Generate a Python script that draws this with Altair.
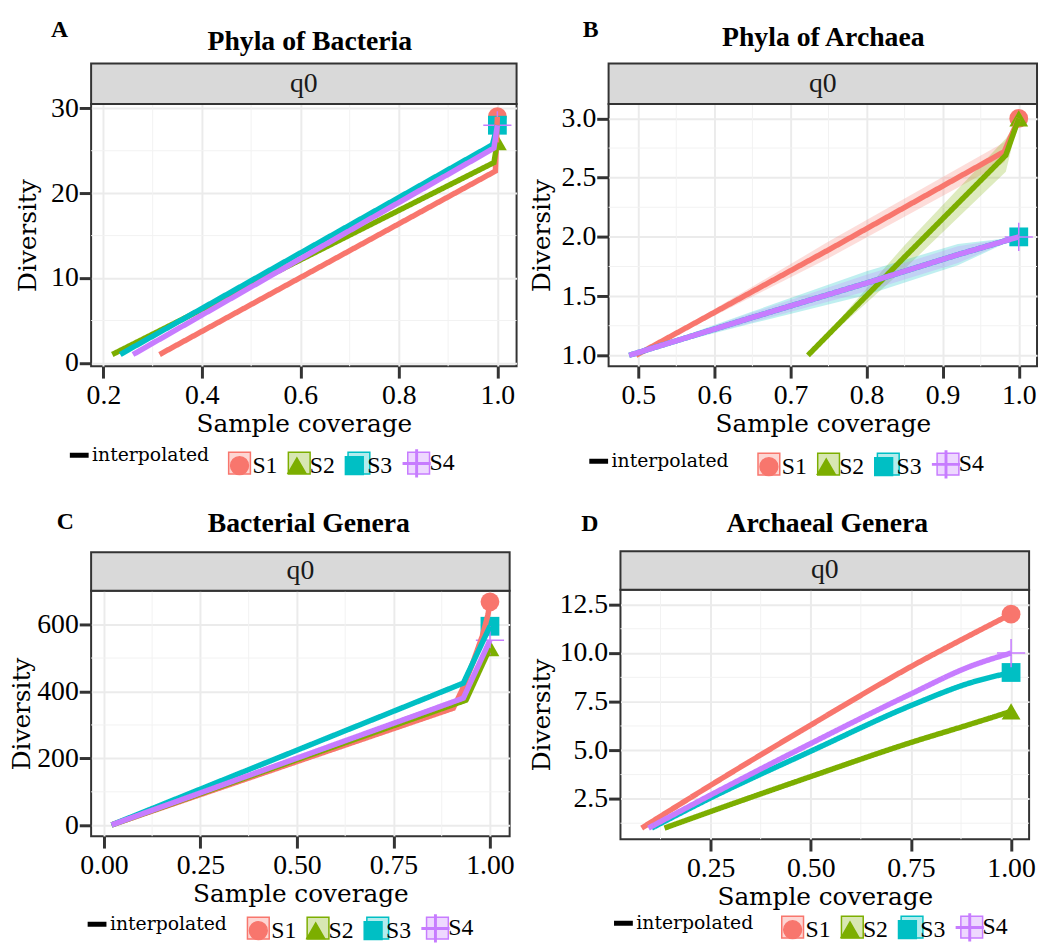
import altair as alt
import pandas as pd

SERIES = ["S1", "S2", "S3", "S4"]
COLORS = ["#F8766D", "#7CAE00", "#00BFC4", "#C77CFF"]
LIGHT = ["#FDD6D3", "#D8E7B3", "#B3ECED", "#EED8FF"]
PLUS = "M-1.5,-0.08H-0.08V-1.5H0.08V-0.08H1.5V0.08H0.08V1.5H-0.08V0.08H-1.5Z"
SHAPES = ["circle", "triangle-up", "square", PLUS]
SERIF = "Liberation Serif"
WIDE = "DejaVu Serif"

# ---------------- Panel A: Phyla of Bacteria ----------------
A_cov = {"S1": [0.314, 0.996, 1.0], "S2": [0.218, 0.993, 1.0],
         "S3": [0.234, 0.990, 1.0], "S4": [0.260, 0.993, 1.0]}
A_div = {"S1": [1, 22.6, 29], "S2": [1, 23.6, 26],
         "S3": [1, 25.7, 28], "S4": [1, 25.3, 28]}
A_obs_cov = [1.0, 1.0, 1.0, 1.0]
A_obs_div = [29, 26, 28, 28]
A_xticks = [0.2, 0.4, 0.6, 0.8, 1.0]
A_yticks = [0, 10, 20, 30]
A_xminor = [0.3, 0.5, 0.7, 0.9]
A_yminor = [5, 15, 25]

# ---------------- Panel B: Phyla of Archaea ----------------
B_cov = {"S1": [0.497, 0.75, 0.981, 1.0], "S2": [0.723, 0.85, 0.983, 1.0],
         "S3": [0.488, 0.65, 0.80, 0.92, 1.0], "S4": [0.488, 0.65, 0.80, 0.92, 1.0]}
B_div = {"S1": [1.0, 1.89, 2.72, 3.0], "S2": [1.0, 1.83, 2.69, 3.0],
         "S3": [1.0, 1.32, 1.61, 1.85, 2.0], "S4": [1.0, 1.32, 1.61, 1.85, 2.0]}
B_lo = {"S1": [1.0, 1.82, 2.63, 3.0], "S2": [1.0, 1.73, 2.55, 3.0],
        "S3": [1.0, 1.27, 1.51, 1.76, 2.0], "S4": [1.0, 1.28, 1.54, 1.78, 2.0]}
B_hi = {"S1": [1.0, 1.96, 2.80, 3.0], "S2": [1.0, 1.93, 2.83, 3.0],
        "S3": [1.0, 1.37, 1.71, 1.94, 2.0], "S4": [1.0, 1.36, 1.68, 1.92, 2.0]}
B_obs_cov = [1.0, 1.0, 1.0, 1.0]
B_obs_div = [3, 3, 2, 2]
B_xticks = [0.5, 0.6, 0.7, 0.8, 0.9, 1.0]
B_yticks = [1.0, 1.5, 2.0, 2.5, 3.0]
B_xminor = [0.55, 0.65, 0.75, 0.85, 0.95]
B_yminor = [1.25, 1.75, 2.25, 2.75]

# ---------------- Panel C: Bacterial Genera ----------------
C_cov = {"S1": [0.02, 0.905, 0.93, 0.955, 0.98, 0.995, 1.0], "S2": [0.02, 0.938, 1.0],
         "S3": [0.02, 0.931, 1.0], "S4": [0.02, 0.931, 1.0]}
C_div = {"S1": [1, 350, 410, 484, 565, 630, 668], "S2": [1, 374, 530],
         "S3": [1, 425, 595], "S4": [1, 380, 553]}
C_obs_cov = [1.0, 1.0, 1.0, 1.0]
C_obs_div = [668, 530, 595, 553]
C_xticks = [0.0, 0.25, 0.5, 0.75, 1.0]
C_yticks = [0, 200, 400, 600]
C_xminor = [0.125, 0.375, 0.625, 0.875]
C_yminor = [100, 300, 500]

# ---------------- Panel D: Archaeal Genera ----------------
D_cov = {"S1": [0.078, 0.25, 0.5, 0.75, 0.9, 1.0], "S2": [0.135, 0.25, 0.5, 0.75, 0.9, 1.0],
         "S3": [0.103, 0.25, 0.5, 0.75, 0.9, 1.0], "S4": [0.095, 0.25, 0.5, 0.75, 0.9, 1.0]}
D_div = {"S1": [1, 3.2, 6.3, 9.3, 10.94, 12], "S2": [1, 1.85, 3.65, 5.4, 6.35, 7.0],
         "S3": [1, 2.55, 4.95, 7.3, 8.48, 9.0], "S4": [1, 2.7, 5.35, 7.9, 9.33, 10]}
D_obs_cov = [1.0, 1.0, 1.0, 1.0]
D_obs_div = [12, 7, 9, 10]
D_xticks = [0.25, 0.5, 0.75, 1.0]
D_yticks = [2.5, 5.0, 7.5, 10.0, 12.5]
D_xminor = [0.125, 0.375, 0.625, 0.875]
D_yminor = [1.25, 3.75, 6.25, 8.75, 11.25]


def curve_df(cov, div, lo=None, hi=None):
    rows = []
    for s in SERIES:
        for i, (c, d) in enumerate(zip(cov[s], div[s])):
            r = {"series": s, "idx": i, "cov": c, "div": d, "method": "interpolated"}
            if lo is not None:
                r["lo"] = lo[s][i]
                r["hi"] = hi[s][i]
            rows.append(r)
    return pd.DataFrame(rows)


def panel(p):
    W, H, SH = p["W"], p["H"], p["SH"]
    curves = curve_df(p["cov"], p["div"], p.get("lo"), p.get("hi"))
    obs = pd.DataFrame({"series": SERIES, "key": [s + "_" for s in SERIES],
                        "cov": p["obs_cov"], "div": p["obs_div"]})
    xs = alt.Scale(domain=p["xdom"], nice=False, zero=False)
    ys = alt.Scale(domain=p["ydom"], nice=False, zero=False)
    cs = alt.Scale(domain=SERIES, range=COLORS)
    xa = alt.Axis(values=p["xticks"], format=p["xfmt"], title="Sample coverage",
                  titleY=p["xty"], titleBaseline="alphabetic")
    ya = alt.Axis(values=p["yticks"], format=p["yfmt"], title="Diversity",
                  titleX=p["ytx"], titleY=H / 2, titleBaseline="alphabetic")
    kx, ky = p["key"]
    ix, iy = p["interp"]

    key_legend = alt.Legend(orient="none", legendX=kx, legendY=ky, direction="horizontal",
                            title=None, symbolSize=324, labelFont=SERIF, labelFontSize=24,
                            labelColor="black", labelOffset=1, columnPadding=7, padding=0)

    def X(f):
        return alt.X(f, scale=xs, axis=xa)

    def Y(f):
        return alt.Y(f, scale=ys, axis=ya)

    layers = []
    layers.append(alt.Chart(pd.DataFrame({"v": p["xminor"]})).mark_rule(
        color="#F2F2F2", strokeWidth=1).encode(x=X("v:Q")))
    layers.append(alt.Chart(pd.DataFrame({"v": p["yminor"]})).mark_rule(
        color="#F2F2F2", strokeWidth=1).encode(y=Y("v:Q")))

    one = pd.DataFrame({"t": ["q0"]})
    layers.append(alt.Chart(one).mark_rect(fill="#D9D9D9", stroke="#333333", strokeWidth=2).encode(
        x=alt.value(0), x2=alt.value(W), y=alt.value(-SH), y2=alt.value(0)))
    layers.append(alt.Chart(one).mark_text(font=SERIF, fontSize=28, color="#1A1A1A",
                                           baseline="middle", align="center").encode(
        x=alt.value(W / 2), y=alt.value(-SH / 2), text="t:N"))
    layers.append(alt.Chart(pd.DataFrame({"t": [p["title"]]})).mark_text(
        font=SERIF, fontSize=28, fontWeight="bold", color="black",
        baseline="alphabetic", align="center").encode(
        x=alt.value(p["title_pos"][0]), y=alt.value(p["title_pos"][1]), text="t:N"))
    layers.append(alt.Chart(pd.DataFrame({"t": [p["letter"]]})).mark_text(
        font=SERIF, fontSize=24, fontWeight="bold", color="black",
        baseline="alphabetic", align="center").encode(
        x=alt.value(p["letter_pos"][0]), y=alt.value(p["letter_pos"][1]), text="t:N"))

    # key boxes (light fill + coloured border) drawn under the symbol legend
    box_legend = alt.Legend(orient="none", legendX=kx, legendY=ky, direction="horizontal",
                            title=None, symbolType="square", symbolSize=484,
                            symbolStrokeWidth=1.5, symbolOpacity=1,
                            labelExpr="''", labelFont=SERIF, labelFontSize=24, labelOffset=1,
                            columnPadding=32.34, padding=0)
    layers.append(alt.Chart(obs).mark_point(shape="square", filled=True, size=0,
                                            strokeWidth=1.5).encode(
        x=X("cov:Q"), y=Y("div:Q"),
        fill=alt.Fill("key:N", scale=alt.Scale(domain=[s + "_" for s in SERIES], range=LIGHT),
                      legend=box_legend),
        stroke=alt.Stroke("key:N", scale=alt.Scale(domain=[s + "_" for s in SERIES], range=COLORS),
                          legend=box_legend)))

    # observed points (drawn first, lines over them as in the original)
    layers.append(alt.Chart(obs).mark_point(filled=True, opacity=1, size=361).encode(
        x=X("cov:Q"), y=Y("div:Q"),
        color=alt.Color("series:N", scale=cs, legend=key_legend),
        shape=alt.Shape("series:N", scale=alt.Scale(domain=SERIES, range=SHAPES), legend=key_legend)))

    if "lo" in p:
        layers.append(alt.Chart(curves).mark_area(opacity=0.25).encode(
            x=X("cov:Q"), y=Y("lo:Q"), y2="hi:Q",
            color=alt.Color("series:N", scale=cs, legend=key_legend)))

    interp_legend = alt.Legend(orient="none", legendX=ix, legendY=iy, title=None,
                               symbolType="stroke", symbolSize=361, symbolStrokeWidth=5,
                               symbolStrokeColor="black", labelFont=WIDE, labelFontSize=19,
                               labelColor="black", labelOffset=1, padding=0)
    line_kw = dict(strokeWidth=5.5)
    if p.get("smooth"):
        line_kw["interpolate"] = "monotone"
    layers.append(alt.Chart(curves).mark_line(**line_kw).encode(
        x=X("cov:Q"), y=Y("div:Q"),
        color=alt.Color("series:N", scale=cs, legend=key_legend),
        strokeDash=alt.StrokeDash("method:N", scale=alt.Scale(domain=["interpolated"], range=[[1, 0]]),
                                  legend=interp_legend),
        order=alt.Order("idx:Q")))

    return alt.layer(*layers).properties(width=W, height=H)


pA = panel(dict(letter="A", title="Phyla of Bacteria", cov=A_cov, div=A_div,
                obs_cov=A_obs_cov, obs_div=A_obs_div, xdom=[0.175, 1.039], ydom=[-0.38, 30.5],
                xticks=A_xticks, yticks=A_yticks, xfmt=".1f", yfmt="d",
                xminor=A_xminor, yminor=A_yminor, W=430, H=265, SH=41,
                letter_pos=(-32, -68), title_pos=(221, -55), ytx=-56, xty=66,
                interp=(-24, 343), key=(138, 351)))
pB = panel(dict(letter="B", title="Phyla of Archaea", cov=B_cov, div=B_div, lo=B_lo, hi=B_hi,
                obs_cov=B_obs_cov, obs_div=B_obs_div, xdom=[0.461, 1.024], ydom=[0.908, 3.122],
                xticks=B_xticks, yticks=B_yticks, xfmt=".1f", yfmt=".1f",
                xminor=B_xminor, yminor=B_yminor, W=433, H=265, SH=41,
                letter_pos=(-18, -68), title_pos=(217, -59), ytx=-60, xty=66,
                interp=(-22, 349), key=(150, 352)))
pC = panel(dict(letter="C", title="Bacterial Genera", cov=C_cov, div=C_div,
                obs_cov=C_obs_cov, obs_div=C_obs_div, xdom=[-0.033, 1.051], ydom=[-32.7, 701],
                xticks=C_xticks, yticks=C_yticks, xfmt=".2f", yfmt="d",
                xminor=C_xminor, yminor=C_yminor, W=423, H=248, SH=39,
                letter_pos=(-26, -62), title_pos=(220, -59), ytx=-62, xty=66,
                interp=(-6, 325), key=(157, 329)))
pD = panel(dict(letter="D", title="Archaeal Genera", cov=D_cov, div=D_div, smooth=True,
                obs_cov=D_obs_cov, obs_div=D_obs_div, xdom=[0.025, 1.045], ydom=[0.43, 13.25],
                xticks=D_xticks, yticks=D_yticks, xfmt=".2f", yfmt=".1f",
                xminor=D_xminor, yminor=D_yminor, W=413, H=252, SH=39,
                letter_pos=(-31, -59), title_pos=(209, -58), ytx=-72, xty=66,
                interp=(-9, 325), key=(162, 329)))

ind = "independent"
chart = alt.concat(pA, pB, pC, pD, columns=2, align="none",
                   spacing={"row": 28, "column": 9}).resolve_scale(
    color=ind, shape=ind, fill=ind, stroke=ind, strokeDash=ind
).resolve_legend(
    color=ind, shape=ind, fill=ind, stroke=ind, strokeDash=ind
).properties(
    padding={"left": 0, "top": 4, "right": 0, "bottom": 0}
).configure_view(
    stroke="#333333", strokeWidth=2
).configure_axis(
    labelFont=SERIF, labelFontSize=28, labelColor="black",
    titleFont=WIDE, titleFontSize=25, titleFontWeight="normal", titleColor="black",
    tickColor="#333333", tickWidth=3, tickSize=12, domain=False,
    gridColor="#EBEBEB", gridWidth=2, labelPadding=3
).configure_axisX(labelAngle=0, labelPadding=4).configure_axisY(labelPadding=1)

chart.save("out.html", embed_options={"renderer": "svg", "actions": False})
